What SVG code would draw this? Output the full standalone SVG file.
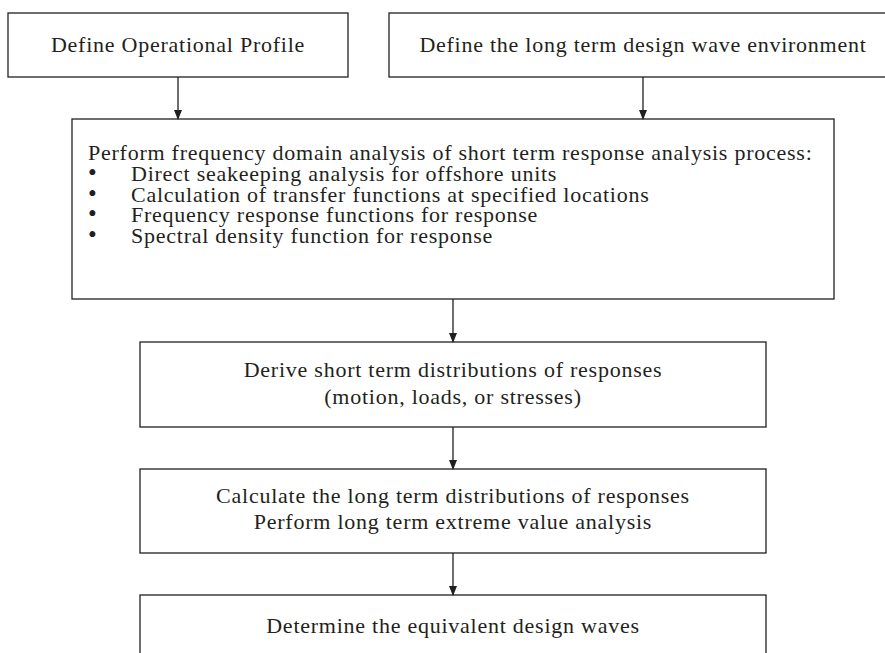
<svg xmlns="http://www.w3.org/2000/svg" width="885" height="653" viewBox="0 0 885 653">
<defs>
<marker id="ah" markerWidth="10" markerHeight="11" refX="9" refY="5" orient="auto" markerUnits="userSpaceOnUse">
<path d="M0,1 L10,5 L0,9 Z" fill="#231f20"/>
</marker>
<style>
.box{fill:#fff;stroke:#231f20;stroke-width:1.3}
.t{font-family:"Liberation Serif","Times New Roman",serif;font-size:22px;letter-spacing:0.75px;fill:#231f20}
.b{font-size:25px}
.c{text-anchor:middle}
.line{stroke:#231f20;stroke-width:1.3;fill:none}
</style>
</defs>
<rect width="885" height="653" fill="#fff"/>
<g id="n1">
<rect class="box" x="8" y="13" width="340" height="64"/>
<text class="t c" x="178" y="52">Define Operational Profile</text>
</g>
<g id="n2">
<rect class="box" x="389" y="13" width="505" height="64"/>
<text class="t c" x="643" y="52">Define the long term design wave environment</text>
</g>
<g id="n3">
<rect class="box" x="72" y="119" width="762" height="180"/>
<text class="t" x="88" y="160">Perform frequency domain analysis of short term response analysis process:</text>
<text class="t" x="88" y="181"><tspan class="b">•</tspan><tspan x="131">Direct seakeeping analysis for offshore units</tspan></text>
<text class="t" x="88" y="202"><tspan class="b">•</tspan><tspan x="131">Calculation of transfer functions at specified locations</tspan></text>
<text class="t" x="88" y="222"><tspan class="b">•</tspan><tspan x="131">Frequency response functions for response</tspan></text>
<text class="t" x="88" y="243"><tspan class="b">•</tspan><tspan x="131">Spectral density function for response</tspan></text>
</g>
<g id="n4">
<rect class="box" x="140" y="342" width="626" height="85"/>
<text class="t c" x="453" y="377">Derive short term distributions of responses</text>
<text class="t c" x="453" y="404">(motion, loads, or stresses)</text>
</g>
<g id="n5">
<rect class="box" x="140" y="469" width="626" height="84"/>
<text class="t c" x="453" y="503">Calculate the long term distributions of responses</text>
<text class="t c" x="453" y="529">Perform long term extreme value analysis</text>
</g>
<g id="n6">
<rect class="box" x="140" y="595" width="626" height="70"/>
<text class="t c" x="453" y="633">Determine the equivalent design waves</text>
</g>
<g id="connectors">
<line class="line" x1="178" y1="77" x2="178" y2="119" marker-end="url(#ah)"/>
<line class="line" x1="643" y1="77" x2="643" y2="119" marker-end="url(#ah)"/>
<line class="line" x1="453" y1="299" x2="453" y2="342" marker-end="url(#ah)"/>
<line class="line" x1="453" y1="427" x2="453" y2="469" marker-end="url(#ah)"/>
<line class="line" x1="453" y1="553" x2="453" y2="595" marker-end="url(#ah)"/>
</g>
</svg>
